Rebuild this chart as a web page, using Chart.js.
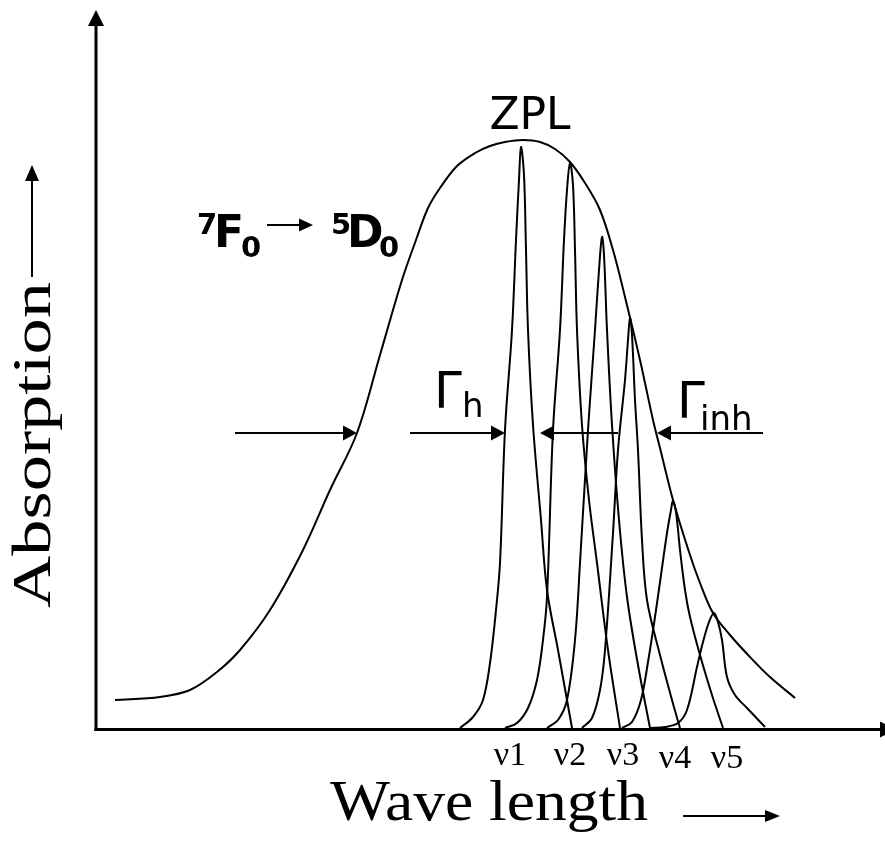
<!DOCTYPE html>
<html>
<head>
<meta charset="utf-8">
<script src="https://cdn.jsdelivr.net/npm/chart.js@4.4.0/dist/chart.umd.min.js"></script>
<style>
  html, body { margin: 0; padding: 0; background: #fff; }
  #wrap { width: 885px; height: 852px; }
</style>
</head>
<body>
<div id="wrap"><canvas id="chart" width="885" height="852"></canvas></div>
<script>
// arbitrary units: wavelength on x, absorption on y
const X_MAX = 789;
const Y_MAX = 718;

// inhomogeneous envelope
const envelope = [
    [19, 28], [64, 31], [94, 38], [121, 56], [144, 78], [174, 118], [207, 178],
    [234, 238], [261, 295], [284, 373], [306, 448], [320, 488], [332, 520],
    [344, 540], [361, 562], [379, 575], [394, 582], [409, 586], [427, 588],
    [444, 586], [459, 579], [474, 566], [489, 545], [504, 518], [517, 478],
    [529, 431], [544, 368], [557, 308], [564, 280], [577, 228], [594, 173],
    [604, 145], [617, 115], [634, 93], [654, 71], [674, 51], [699, 30]
];

// homogeneous lines v1..v6
const peak1 = [
    [364, 0], [377, 11], [387, 28], [394, 65], [400, 118], [404, 165], [409, 298],
    [416, 398], [420, 488], [423, 548], [425, 581],
    [428, 553], [430, 478], [432, 398], [437, 303], [445, 208], [451, 138], [462, 78], [476, 0]
];
const peak2 = [
    [409, 0], [421, 5], [432, 20], [441, 48], [447, 88], [451, 131], [457, 298],
    [464, 398], [468, 488], [471, 538], [474, 565],
    [477, 543], [479, 478], [481, 398], [486, 303], [493, 228], [501, 165], [512, 78], [524, 0]
];
const peak3 = [
    [451, 0], [462, 8], [471, 28], [479, 88], [484, 165], [492, 298], [499, 398],
    [503, 458], [506, 491],
    [508, 473], [511, 398], [516, 303], [523, 208], [531, 131], [542, 63], [554, 0]
];
const peak4 = [
    [486, 0], [496, 10], [504, 38], [509, 78], [517, 195], [522, 278], [529, 348],
    [532, 388], [534, 410],
    [536, 393], [539, 328], [542, 278], [546, 188], [551, 128], [564, 73], [576, 28], [584, 0]
];
const peak5 = [
    [526, 0], [536, 6], [545, 28], [552, 66], [559, 111], [565, 153], [571, 195],
    [575, 218], [577, 227],
    [580, 216], [584, 178], [589, 138], [594, 111], [604, 73], [616, 33], [627, 0]
];
const peak6 = [
    [554, 0], [569, 1], [582, 5], [591, 18], [601, 61], [607, 86], [613, 106], [618, 115],
    [622, 106], [626, 88], [631, 51], [639, 33], [651, 20], [669, 1]
];
const narrowPeaks = [peak1, peak2, peak3, peak4, peak5, peak6];

const nuLabels = ['ν1', 'ν2', 'ν3', 'ν4', 'ν5'];
const nuPositions = [414, 474, 527, 579, 631];

// width markers (from -> to) at half height
const halfHeight = 295;
const widthArrows = [[139, 261], [314, 409], [522, 444], [667, 561]];

function toPoints(list) {
    return list.map(p => ({ x: p[0], y: p[1] }));
}

function makeSet(list) {
    return {
        data: toPoints(list),
        borderColor: '#000',
        borderWidth: 2,
        pointRadius: 0,
        fill: false,
        tension: 0.35,
        clip: false
    };
}

function arrow(ctx, x1, y1, x2, y2, head, half, width) {
    const ang = Math.atan2(y2 - y1, x2 - x1);
    const bx = x2 - head * Math.cos(ang);
    const by = y2 - head * Math.sin(ang);
    ctx.lineWidth = width;
    ctx.beginPath();
    ctx.moveTo(x1, y1);
    ctx.lineTo(bx, by);
    ctx.stroke();
    ctx.beginPath();
    ctx.moveTo(x2, y2);
    ctx.lineTo(bx - half * Math.sin(ang), by + half * Math.cos(ang));
    ctx.lineTo(bx + half * Math.sin(ang), by - half * Math.cos(ang));
    ctx.closePath();
    ctx.fill();
}

// stretch text along its direction to a given length
function fitText(ctx, text, x, y, len) {
    const w = ctx.measureText(text).width;
    ctx.save();
    ctx.translate(x, y);
    ctx.scale(len / w, 1);
    ctx.fillText(text, 0, 0);
    ctx.restore();
}

const decorations = {
    id: 'decorations',
    afterDatasetsDraw(chart) {
        const ctx = chart.ctx;
        const xs = chart.scales.x;
        const ys = chart.scales.y;
        const x0 = xs.getPixelForValue(0);
        const y0 = ys.getPixelForValue(0);
        const yTop = ys.getPixelForValue(Y_MAX);

        ctx.save();
        ctx.strokeStyle = '#000';
        ctx.fillStyle = '#000';
        ctx.lineCap = 'butt';

        // axes
        arrow(ctx, x0, y0 + 3, x0, yTop, 16, 8, 3);
        arrow(ctx, x0 - 1.5, y0 + 1.5, x0 + 800, y0 + 1.5, 16, 8, 3);

        // width markers
        const ay = ys.getPixelForValue(halfHeight);
        widthArrows.forEach(a => {
            arrow(ctx, xs.getPixelForValue(a[0]), ay, xs.getPixelForValue(a[1]), ay, 14, 7.5, 2);
        });

        // ZPL
        ctx.textBaseline = 'alphabetic';
        ctx.textAlign = 'center';
        ctx.font = '44px "DejaVu Sans"';
        ctx.fillText('ZPL', 530, 129);

        // 7F0 -> 5D0
        ctx.textAlign = 'left';
        ctx.font = 'bold 29px "DejaVu Sans"';
        ctx.fillText('7', 197, 234);
        ctx.fillText('0', 241, 257);
        ctx.fillText('5', 331, 234);
        ctx.fillText('0', 379, 257);
        ctx.font = 'bold 44px "DejaVu Sans"';
        ctx.fillText('F', 214, 247);
        ctx.fillText('D', 347, 247);
        arrow(ctx, 267, 225, 313, 225, 14, 6.5, 2);

        // Gamma labels
        ctx.font = '50px "DejaVu Sans"';
        ctx.fillText('Γ', 434, 407);
        ctx.fillText('Γ', 677, 417);
        ctx.font = '34px "DejaVu Sans"';
        ctx.fillText('h', 462, 417);
        ctx.fillText('inh', 700, 430);

        // v labels under the axis
        ctx.textAlign = 'center';
        ctx.font = '34px "Liberation Serif"';
        nuLabels.forEach((t, i) => {
            ctx.fillText(t, xs.getPixelForValue(nuPositions[i]), 765 + (i > 2 ? 3 : 0));
        });

        // axis titles
        ctx.textAlign = 'left';
        ctx.font = '56px "Liberation Serif"';
        fitText(ctx, 'Wave length', 330, 820, 318);
        arrow(ctx, 683, 816, 780, 816, 15, 6, 2);

        ctx.save();
        ctx.translate(50, 608);
        ctx.rotate(-Math.PI / 2);
        ctx.font = '54px "Liberation Serif"';
        fitText(ctx, 'Absorption', 0, 0, 326);
        ctx.restore();
        arrow(ctx, 32, 277, 32, 165, 16, 7, 2);

        ctx.restore();
    }
};

const datasets = [makeSet(envelope)].concat(narrowPeaks.map(makeSet));

new Chart(document.getElementById('chart'), {
    type: 'line',
    data: { datasets: datasets },
    options: {
        responsive: false,
        animation: false,
        events: [],
        layout: { padding: { left: 96, top: 10, right: 0, bottom: 124 } },
        plugins: {
            legend: { display: false },
            tooltip: { enabled: false }
        },
        scales: {
            x: { type: 'linear', min: 0, max: X_MAX, display: false },
            y: { type: 'linear', min: 0, max: Y_MAX, display: false }
        }
    },
    plugins: [decorations]
});
</script>
</body>
</html>
